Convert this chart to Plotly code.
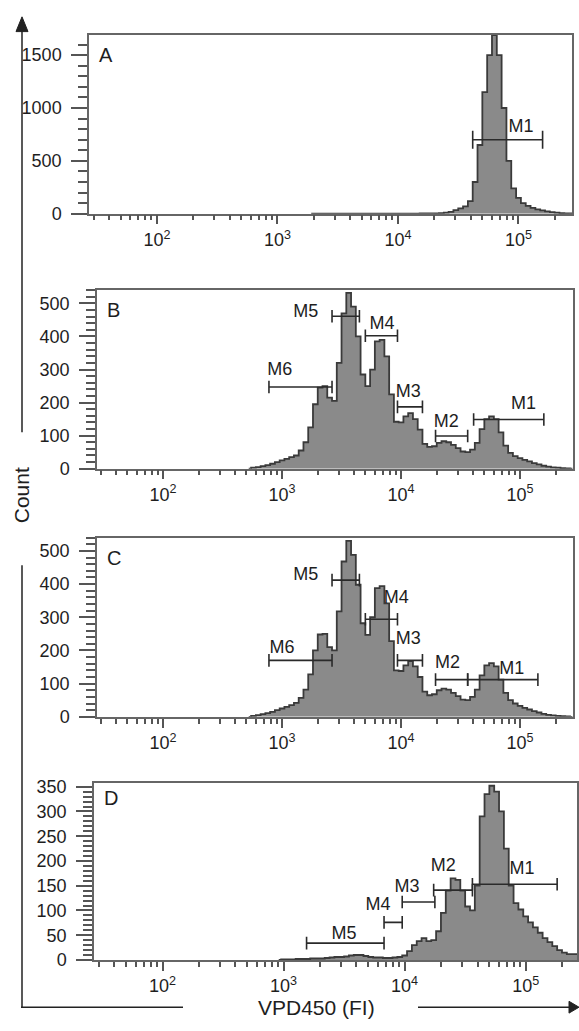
import plotly.graph_objects as go

# ---------------- data ----------------
BIN_WIDTH = 0.04  # histogram channel width in log10 decades

A_START = 3.32
A_COUNTS = [1, 1, 1, 1, 1, 1, 1, 1, 1, 1, 1, 1, 1, 1, 1, 1, 1, 1, 0, 0,
            1, 1, 2, 2, 3, 4, 5, 10, 18, 35, 50, 70, 120, 300, 650, 1150,
            1500, 1690, 1500, 1000, 500, 240, 150, 100, 75, 55, 42, 32, 22,
            15, 10, 6, 4, 2]

B_START = 2.76
B_COUNTS = [3, 5, 8, 11, 15, 20, 25, 30, 35, 40, 55, 80, 125, 195, 245, 250,
            215, 205, 320, 470, 532, 490, 400, 285, 250, 300, 385, 390, 340,
            225, 142, 140, 158, 168, 150, 118, 75, 66, 68, 78, 83, 80, 72,
            62, 52, 50, 58, 78, 120, 150, 158, 150, 110, 70, 48, 38, 32, 27,
            22, 17, 13, 9, 6, 4, 3, 2, 1]

C_START = 2.76
C_COUNTS = [3, 5, 8, 11, 15, 20, 25, 30, 35, 42, 57, 82, 128, 200, 248, 250,
            210, 200, 318, 468, 530, 488, 398, 282, 247, 300, 388, 394, 342,
            228, 140, 138, 155, 168, 152, 120, 76, 65, 68, 80, 85, 82, 72,
            62, 52, 50, 60, 82, 125, 155, 162, 152, 112, 72, 50, 40, 33, 27,
            22, 17, 13, 9, 6, 4, 3, 2, 1]

D_START = 3.00
D_COUNTS = [1, 1, 1, 2, 2, 2, 3, 3, 3, 4, 5, 6, 6, 7, 9, 10, 10, 8, 6, 5,
            5, 4, 4, 5, 6, 9, 18, 30, 38, 44, 38, 40, 58, 95, 140, 165, 162,
            140, 108, 100, 150, 290, 335, 352, 340, 300, 225, 150, 115, 102,
            88, 76, 66, 55, 44, 36, 28, 20, 15, 12, 12, 12]

# gates: name, low (log10), high (log10), height (count)
A_GATE_NAMES = ["M1"]
A_GATE_LO = [4.62]
A_GATE_HI = [5.20]
A_GATE_Y = [700]

B_GATE_NAMES = ["M1", "M2", "M3", "M4", "M5", "M6"]
B_GATE_LO = [4.61, 4.29, 3.97, 3.70, 3.42, 2.89]
B_GATE_HI = [5.20, 4.56, 4.18, 3.97, 3.65, 3.42]
B_GATE_Y = [149, 99, 187, 402, 461, 247]

C_GATE_NAMES = ["M1", "M2", "M3", "M4", "M5", "M6"]
C_GATE_LO = [4.56, 4.29, 3.97, 3.70, 3.42, 2.89]
C_GATE_HI = [5.15, 4.56, 4.18, 3.97, 3.65, 3.42]
C_GATE_Y = [112, 112, 170, 294, 412, 170]

D_GATE_NAMES = ["M1", "M2", "M3", "M4", "M5"]
D_GATE_LO = [4.56, 4.24, 3.98, 3.83, 3.19]
D_GATE_HI = [5.26, 4.56, 4.25, 3.98, 3.83]
D_GATE_Y = [153, 141, 117, 76, 34]

PANEL_LETTERS = ["A", "B", "C", "D"]
X_TICK_VALS = [1e2, 1e3, 1e4, 1e5]
X_TICK_TEXT = ["10<sup>2</sup>", "10<sup>3</sup>", "10<sup>4</sup>", "10<sup>5</sup>"]
X_TITLE = "VPD450 (FI)"
Y_TITLE = "Count"

# ---------------- layout helpers ----------------
W, H = 579, 1031
FONT = "Liberation Sans, Arial, Helvetica, sans-serif"
TXT = "#1e1e1e"


def fx(px):
    return px / W


def fy(py):
    return 1 - py / H


# label placement (log10 x, count y) for gate names
A_LABEL_POS = [(5.02, 811)]
B_LABEL_POS = [(5.03, 193), (4.38, 140), (4.06, 229), (3.84, 437), (3.20, 473), (2.98, 298)]
C_LABEL_POS = [(4.93, 143), (4.39, 162), (4.06, 233), (3.96, 355), (3.20, 427), (3.00, 206)]
D_LABEL_POS = [(4.97, 183), (4.32, 189), (4.02, 147), (3.78, 111), (3.50, 52)]

panels = [
    dict(start=A_START, counts=A_COUNTS, names=A_GATE_NAMES, lo=A_GATE_LO, hi=A_GATE_HI,
         gy=A_GATE_Y, lab=A_LABEL_POS, box=(89, 572, 29, 211), xr=(1.436, 5.444),
         yr=1695, dt=500, mdt=100, cap=13, ly=50),
    dict(start=B_START, counts=B_COUNTS, names=B_GATE_NAMES, lo=B_GATE_LO, hi=B_GATE_HI,
         gy=B_GATE_Y, lab=B_LABEL_POS, box=(97, 573, 288, 470), xr=(1.445, 5.445),
         yr=542, dt=100, mdt=20, cap=9, ly=309),
    dict(start=C_START, counts=C_COUNTS, names=C_GATE_NAMES, lo=C_GATE_LO, hi=C_GATE_HI,
         gy=C_GATE_Y, lab=C_LABEL_POS, box=(97, 573, 540, 722), xr=(1.445, 5.445),
         yr=540, dt=100, mdt=20, cap=9, ly=561),
    dict(start=D_START, counts=D_COUNTS, names=D_GATE_NAMES, lo=D_GATE_LO, hi=D_GATE_HI,
         gy=D_GATE_Y, lab=D_LABEL_POS, box=(94, 577, 789, 969), xr=(1.434, 5.424),
         yr=358, dt=50, mdt=10, cap=9, ly=804),
]

minor_vals = [m * 10 ** e for e in range(1, 6) for m in range(2, 10)]

fig = go.Figure()
layout = dict(
    width=W, height=H, margin=dict(l=0, r=0, t=0, b=0),
    paper_bgcolor="white", plot_bgcolor="white", showlegend=False,
    font=dict(family=FONT, size=18, color=TXT),
)
annotations = []

for i, p in enumerate(panels):
    n = i + 1
    xa = "x" if n == 1 else f"x{n}"
    ya = "y" if n == 1 else f"y{n}"
    xkey = "xaxis" if n == 1 else f"xaxis{n}"
    ykey = "yaxis" if n == 1 else f"yaxis{n}"

    logs = [p["start"] + k * BIN_WIDTH for k in range(len(p["counts"]))]
    xs = [10 ** (p["start"] - BIN_WIDTH)] + [10 ** v for v in logs] + [10 ** (logs[-1] + BIN_WIDTH)]
    ys = [0] + list(p["counts"]) + [0]
    fig.add_trace(go.Scatter(
        x=xs, y=ys, mode="lines", line=dict(shape="hvh", color="#3a3a3a", width=1.8),
        fill="tozeroy", fillcolor="#8a8a8a", xaxis=xa, yaxis=ya, hoverinfo="skip"))

    for name, lo, hi, gy in zip(p["names"], p["lo"], p["hi"], p["gy"]):
        fig.add_trace(go.Scatter(
            x=[10 ** lo, 10 ** hi], y=[gy, gy], mode="lines+markers",
            line=dict(color="#2a2a2a", width=1.6),
            marker=dict(symbol="line-ns", size=p["cap"], line=dict(color="#2a2a2a", width=1.6)),
            xaxis=xa, yaxis=ya, hoverinfo="skip"))
    fig.add_trace(go.Scatter(
        x=[10 ** lx for lx, _ in p["lab"]], y=[ly for _, ly in p["lab"]],
        text=p["names"], mode="text", textposition="middle center",
        textfont=dict(family=FONT, size=18, color=TXT), xaxis=xa, yaxis=ya, hoverinfo="skip"))

    x0, x1, y0, y1 = p["box"]
    layout[xkey] = dict(
        type="log", range=list(p["xr"]), domain=[fx(x0), fx(x1)], anchor=ya,
        tickmode="array", tickvals=X_TICK_VALS, ticktext=X_TICK_TEXT,
        ticks="outside", ticklen=9, tickwidth=2, tickcolor="#555555",
        minor=dict(tickmode="array", tickvals=minor_vals, ticks="outside", ticklen=5,
                   tickwidth=1.5, tickcolor="#555555"),
        showline=True, linecolor="#666666", linewidth=1.5, mirror=True,
        showgrid=False, zeroline=False, tickfont=dict(size=18, color=TXT, family=FONT),
        ticklabelstandoff=0,
    )
    layout[ykey] = dict(
        range=[0, p["yr"]], domain=[fy(y1), fy(y0)], anchor=xa,
        dtick=p["dt"], tick0=0, ticks="outside", ticklen=16, tickwidth=1.5, tickcolor="#555555",
        minor=dict(dtick=p["mdt"], tick0=0, ticks="outside", ticklen=9, tickwidth=1.5,
                   tickcolor="#555555"),
        showline=True, linecolor="#666666", linewidth=1.5, mirror=True,
        showgrid=False, zeroline=False, tickfont=dict(size=18, color=TXT, family=FONT),
        ticklabelstandoff=6,
    )
    annotations.append(dict(text=PANEL_LETTERS[i], x=fx(x0 + 8), y=fy(p["ly"]), xref="paper",
                            yref="paper", xanchor="left", yanchor="middle", showarrow=False,
                            font=dict(size=20, color=TXT, family=FONT)))

annotations.append(dict(text=Y_TITLE, x=fx(21), y=fy(497), xref="paper", yref="paper",
                        textangle=-90, showarrow=False, xanchor="center", yanchor="middle",
                        font=dict(size=21, color=TXT, family=FONT)))
annotations.append(dict(text=X_TITLE, x=fx(316), y=fy(1017), xref="paper", yref="paper",
                        showarrow=False, xanchor="center", yanchor="middle",
                        font=dict(size=21, color=TXT, family=FONT)))

LINE = dict(color="#222222", width=1.5)
shapes = [
    dict(type="line", xref="paper", yref="paper", x0=fx(22), x1=fx(22), y0=fy(24), y1=fy(433), line=LINE),
    dict(type="path", xref="paper", yref="paper",
         path=f"M {fx(16)},{fy(26)} L {fx(28)},{fy(26)} L {fx(22)},{fy(11)} Z",
         fillcolor="#222222", line=dict(color="#222222", width=1)),
    dict(type="line", xref="paper", yref="paper", x0=fx(22), x1=fx(22), y0=fy(568), y1=fy(1017), line=LINE),
    dict(type="line", xref="paper", yref="paper", x0=fx(21), x1=fx(183), y0=fy(1017), y1=fy(1017), line=LINE),
    dict(type="line", xref="paper", yref="paper", x0=fx(418), x1=fx(572), y0=fy(1017), y1=fy(1017), line=LINE),
    dict(type="path", xref="paper", yref="paper",
         path=f"M {fx(569)},{fy(1011)} L {fx(569)},{fy(1023)} L {fx(579)},{fy(1017)} Z",
         fillcolor="#222222", line=dict(color="#222222", width=1)),
]
layout["annotations"] = annotations
layout["shapes"] = shapes
fig.update_layout(**layout)
fig.write_html(
    "out.html",
    config={"displayModeBar": False},
    post_script="document.body.style.margin='0px';document.body.style.overflow='hidden';",
)
